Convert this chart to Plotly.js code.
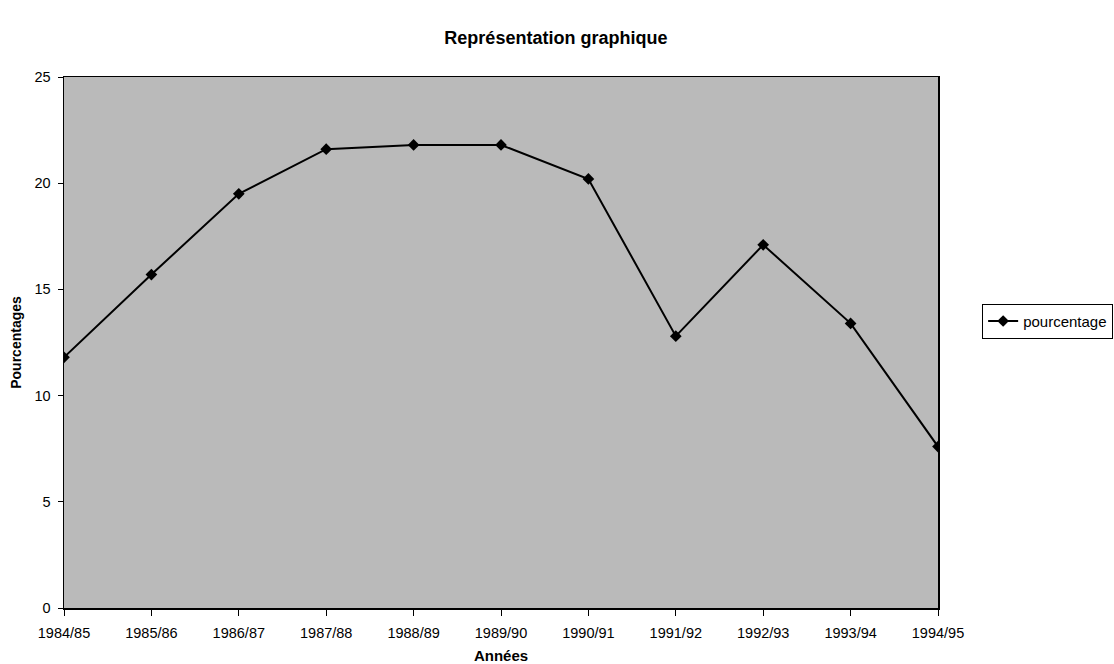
<!DOCTYPE html>
<html>
<head>
<meta charset="utf-8">
<script src="https://cdn.plot.ly/plotly-3.0.1.min.js"></script>
<style>html,body{margin:0;padding:0;background:#fff;}#chart{width:1114px;height:664px;}</style>
</head>
<body>
<div id="chart"></div>
<script>
const years = ["1984/85","1985/86","1986/87","1987/88","1988/89","1989/90","1990/91","1991/92","1992/93","1993/94","1994/95"];
const pourcentage = [11.8, 15.7, 19.5, 21.6, 21.8, 21.8, 20.2, 12.8, 17.1, 13.4, 7.6];
const yTicks = [0, 5, 10, 15, 20, 25];
const seriesName = "pourcentage";

const font = "Liberation Sans, Arial, sans-serif";

Plotly.newPlot("chart", [{
  type: "scatter",
  mode: "lines+markers",
  x: years,
  y: pourcentage,
  name: seriesName,
  line: {color: "#000", width: 2},
  marker: {symbol: "diamond", size: 9, color: "#000"}
}], {
  width: 1114, height: 664,
  margin: {l: 64, r: 176, t: 77, b: 56, autoexpand: false},
  paper_bgcolor: "#fff",
  plot_bgcolor: "#bababa",
  font: {family: font, size: 14.5, color: "#000"},
  title: {text: "<b>Représentation graphique</b>", font: {family: font, size: 18, color: "#000"}, xref: "container", x: 0.499, xanchor: "center", y: 0.943, yanchor: "middle"},
  xaxis: {
    type: "category",
    range: [0, 10],
    automargin: false,
    showgrid: false, zeroline: false,
    showline: true, linecolor: "#000", linewidth: 1.5, mirror: true,
    ticks: "outside", ticklen: 6, tickcolor: "#000",
    ticklabelstandoff: 5,
    tickfont: {family: font, size: 14.5},
    title: {text: "<b>Années</b>", font: {family: font, size: 15}, standoff: 12}
  },
  yaxis: {
    range: [0, 25],
    automargin: false,
    tickvals: yTicks,
    showgrid: false, zeroline: false,
    showline: true, linecolor: "#000", linewidth: 1.5, mirror: true,
    ticks: "outside", ticklen: 5, tickcolor: "#000",
    ticklabelstandoff: 4,
    tickfont: {family: font, size: 14.5},
    title: {text: "<b>Pourcentages</b>", font: {family: font, size: 14}, standoff: 9}
  },
  showlegend: true,
  legend: {
    x: 1.0505, xanchor: "left", y: 0.54, yanchor: "middle",
    bgcolor: "#fff", bordercolor: "#000", borderwidth: 1,
    font: {family: font, size: 15},
    itemwidth: 30
  }
}, {displayModeBar: false, staticPlot: true});
</script>
</body>
</html>
